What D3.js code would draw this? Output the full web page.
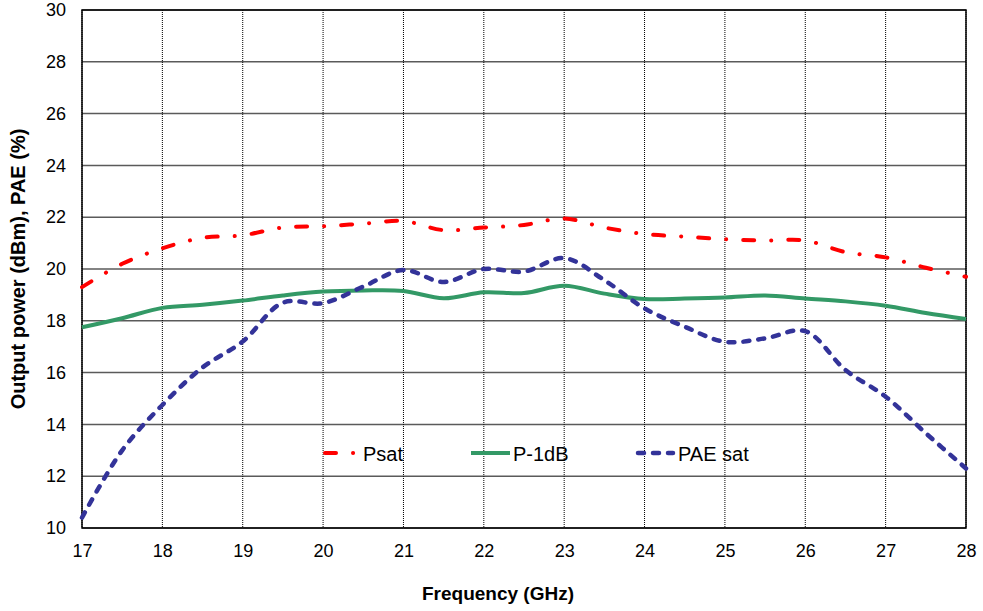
<!DOCTYPE html>
<html>
<head>
<meta charset="utf-8">
<script src="https://cdn.jsdelivr.net/npm/d3@7"></script>
<style>
  body { margin: 0; background: #fff; }
  svg { font-family: Arial, "Liberation Sans", sans-serif; }
</style>
</head>
<body>
<svg width="983" height="611"></svg>
<script>
// data
let freq = [17, 17.5, 18, 18.5, 19, 19.5, 20, 20.5, 21, 21.5, 22, 22.5, 23, 23.5, 24, 24.5, 25, 25.5, 26, 26.5, 27, 27.5, 28];
let psat = [19.3, 20.2, 20.8, 21.2, 21.3, 21.6, 21.65, 21.75, 21.85, 21.5, 21.6, 21.7, 21.95, 21.6, 21.35, 21.25, 21.15, 21.1, 21.1, 20.65, 20.45, 20.05, 19.7];
let p1db = [17.75, 18.1, 18.5, 18.62, 18.78, 18.98, 19.13, 19.17, 19.15, 18.87, 19.1, 19.07, 19.35, 19.05, 18.84, 18.86, 18.9, 18.98, 18.86, 18.75, 18.58, 18.3, 18.07];
let paesat = [10.4, 13.0, 14.75, 16.2, 17.2, 18.7, 18.68, 19.32, 19.96, 19.5, 20.0, 19.9, 20.42, 19.57, 18.48, 17.77, 17.19, 17.32, 17.6, 16.1, 15.07, 13.66, 12.3];
let xTicks = d3.range(17, 29);
let yTicks = d3.range(10, 31, 2);

let series = [
  { name: 'Psat', values: psat, color: '#ff0000', width: 4, dash: '11,17,0.1,17' },
  { name: 'P-1dB', values: p1db, color: '#339966', width: 4, dash: null },
  { name: 'PAE sat', values: paesat, color: '#333399', width: 4.5, dash: '6,9' }
];

let svg = d3.select('svg'),
  margin = { top: 10, right: 17, bottom: 83, left: 82 },
  width = +svg.attr('width') - margin.left - margin.right,
  height = +svg.attr('height') - margin.top - margin.bottom,
  g = svg.append('g').attr('transform', `translate(${margin.left}, ${margin.top})`);

let x = d3.scaleLinear().domain([17, 28]).range([0, width]);
let y = d3.scaleLinear().domain([10, 30]).range([height, 0]);

// horizontal grid
g.append('g')
  .selectAll('line')
  .data(yTicks)
  .join('line')
  .attr('x1', 0).attr('x2', width)
  .attr('y1', d => y(d)).attr('y2', d => y(d))
  .attr('stroke', '#5a5a5a')
  .attr('stroke-width', 1.5);

// vertical grid, dotted
g.append('g')
  .selectAll('line')
  .data(xTicks)
  .join('line')
  .attr('x1', d => x(d)).attr('x2', d => x(d))
  .attr('y1', 0).attr('y2', height)
  .attr('stroke', '#000')
  .attr('stroke-width', 1)
  .attr('stroke-dasharray', '1,1');

// plot border
g.append('rect')
  .attr('width', width).attr('height', height)
  .attr('fill', 'none')
  .attr('stroke', '#000')
  .attr('stroke-width', 1.5);

// axes
let xAxis = g.append('g')
  .attr('transform', `translate(0, ${height})`)
  .call(d3.axisBottom(x).tickValues(xTicks).tickSize(0).tickPadding(16).tickFormat(d3.format('d')));
let yAxis = g.append('g')
  .call(d3.axisLeft(y).tickValues(yTicks).tickSize(0).tickPadding(16).tickFormat(d3.format('d')));

[xAxis, yAxis].forEach(a => {
  a.select('.domain').remove();
  a.selectAll('text')
    .attr('font-size', '18px')
    .attr('font-family', 'Arial, "Liberation Sans", sans-serif')
    .attr('fill', '#000');
});

// lines
let line = d3.line()
  .x((d, i) => x(freq[i]))
  .y(d => y(d))
  .curve(d3.curveCatmullRom.alpha(0.5));

g.append('g')
  .selectAll('path')
  .data(series)
  .join('path')
  .attr('d', d => line(d.values))
  .attr('fill', 'none')
  .attr('stroke', d => d.color)
  .attr('stroke-width', d => d.width)
  .attr('stroke-linecap', d => d.dash ? 'round' : 'butt')
  .attr('stroke-dasharray', d => d.dash);

// legend
let legendPos = [
  { x1: 325, x2: 353.2, tx: 363 },
  { x1: 471, x2: 510, tx: 513 },
  { x1: 638, x2: 673, tx: 678 }
];
let legend = svg.append('g');
series.forEach((s, i) => {
  let p = legendPos[i];
  legend.append('line')
    .attr('x1', p.x1).attr('x2', p.x2)
    .attr('y1', 453).attr('y2', 453)
    .attr('stroke', s.color)
    .attr('stroke-width', s.width)
    .attr('stroke-linecap', s.dash ? 'round' : 'butt')
    .attr('stroke-dasharray', s.dash);
  legend.append('text')
    .attr('x', p.tx).attr('y', 460.5)
    .attr('font-size', '20px')
    .text(s.name);
});

// axis titles
svg.append('text')
  .attr('x', 498)
  .attr('y', 600)
  .attr('text-anchor', 'middle')
  .attr('font-size', '19px')
  .attr('font-weight', 'bold')
  .text('Frequency (GHz)');

svg.append('text')
  .attr('transform', 'translate(25, 269) rotate(-90)')
  .attr('text-anchor', 'middle')
  .attr('font-size', '20px')
  .attr('font-weight', 'bold')
  .text('Output power  (dBm), PAE (%)');
</script>
</body>
</html>
